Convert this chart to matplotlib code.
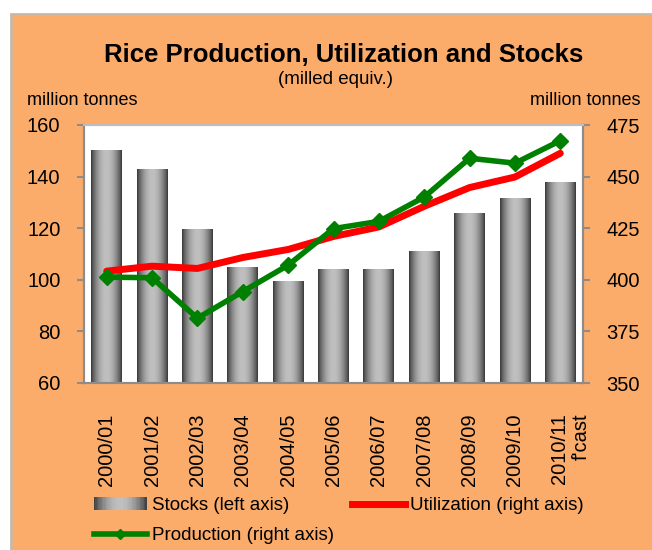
import numpy as np
import matplotlib.pyplot as plt
import matplotlib.transforms as mtransforms
from matplotlib.patches import Rectangle
from matplotlib.lines import Line2D
from matplotlib.legend_handler import HandlerBase

plt.rcParams['font.family'] = ['Liberation Sans', 'DejaVu Sans']

seasons = ['2000/01', '2001/02', '2002/03', '2003/04', '2004/05', '2005/06',
           '2006/07', '2007/08', '2008/09', '2009/10', "2010/11\nf'cast"]
stocks = [150.3, 142.6, 119.5, 104.8, 99.4, 104.0, 104.0, 111.0, 125.6, 131.4, 137.6]
utilization = [404.2, 406.6, 405.5, 410.8, 414.7, 421.0, 425.6, 435.6, 444.7, 449.8, 461.3]
production = [401.3, 401.0, 381.4, 394.3, 407.1, 424.8, 428.3, 440.1, 458.9, 456.5, 467.4]

orange = '#FBAC6B'
spine_gray = '#8c8c8c'


def shade(t):
    # cylinder look: dark edges, light middle
    return 0.22 + 0.53 * np.sin(np.pi * t) ** 0.8


grad = shade(np.linspace(0, 1, 64)).reshape(1, -1)


class GradientHandler(HandlerBase):
    def create_artists(self, legend, orig_handle, xdescent, ydescent,
                       width, height, fontsize, trans):
        n = 40
        arts = []
        for i in range(n):
            g = shade((i + 0.5) / n)
            r = Rectangle((-xdescent + width * i / n, -ydescent), width / n * 1.05, height,
                          facecolor=(g, g, g), edgecolor='none', transform=trans)
            arts.append(r)
        return arts


fig = plt.figure(figsize=(6.52, 5.5), dpi=100, facecolor='white')
fig.patches.append(Rectangle((11 / 652, -0.1), 1.2, 1.1 - 14 / 550, transform=fig.transFigure,
                             facecolor=orange, edgecolor='#c9b8a6', lw=2, zorder=-10))

ax = fig.add_axes([84 / 652, 1 - 383 / 550, 499 / 652, 258 / 550])
ax.set_facecolor('white')
x = np.arange(len(seasons))
bars = ax.bar(x, stocks, width=0.68, facecolor='none', edgecolor='none')
for b in bars:
    ax.imshow(grad, extent=(b.get_x(), b.get_x() + b.get_width(), b.get_y(), b.get_y() + b.get_height()),
              aspect='auto', cmap='gray', vmin=0, vmax=1, interpolation='bilinear', zorder=2)
ax.set_xlim(-0.5, len(seasons) - 0.5)
ax.set_ylim(60, 160)
ax.set_yticks(range(60, 161, 20))
ax.set_xticks(x)
ax.tick_params(axis='x', length=0, pad=22)
ax.tick_params(axis='y', direction='out', length=5, width=1.5, color=spine_gray, labelsize=14.5, pad=12)
labels = ax.set_xticklabels(seasons, rotation=90, fontsize=14.5, va='top', ha='center',
                            multialignment='right')
# last label: first line sits on the tick, "f'cast" to its right
labels[-1].set_transform(labels[-1].get_transform() +
                         mtransforms.ScaledTranslation(0.1, 0, fig.dpi_scale_trans))

ax2 = ax.twinx()
ax2.plot(x, utilization, color='#FF0000', lw=5, solid_capstyle='round', zorder=2)
ax2.plot(x, production, color='#008000', lw=4, marker='D', ms=8.5, zorder=3)
ax2.set_ylim(350, 475)
ax2.set_yticks(range(350, 476, 25))
ax2.tick_params(axis='y', direction='out', length=5, width=1.5, color=spine_gray, labelsize=14.5, pad=12)

for a in (ax, ax2):
    for s in a.spines.values():
        s.set_color(spine_gray)
        s.set_linewidth(1.5)
    a.spines['top'].set_color('#bdbdbd')

fig.text(344 / 652, 1 - 55 / 550, 'Rice Production, Utilization and Stocks',
         ha='center', va='center', fontsize=18.5, fontweight='bold')
fig.text(335 / 652, 1 - 79 / 550, '(milled equiv.)', ha='center', va='center', fontsize=13.5)
fig.text(27 / 652, 1 - 100 / 550, 'million tonnes', ha='left', va='center', fontsize=13)
fig.text(640 / 652, 1 - 100 / 550, 'million tonnes', ha='right', va='center', fontsize=13)

stock_handle = Rectangle((0, 0), 1, 1)
prod_handle = Line2D([], [], color='#008000', lw=4, marker='D', ms=5)
util_handle = Line2D([], [], color='#FF0000', lw=5)
fig.legend([stock_handle, prod_handle, util_handle],
           ['Stocks (left axis)', 'Production (right axis)', 'Utilization (right axis)'],
           handler_map={Rectangle: GradientHandler()},
           loc='upper left', bbox_to_anchor=(94 / 652, 1 - 497 / 550), ncol=2,
           frameon=False, fontsize=13.5, borderpad=0, handlelength=2.8, handletextpad=0.27,
           columnspacing=1.0, labelspacing=0.7, numpoints=1, borderaxespad=0)

fig.savefig('out.png', dpi=100, facecolor=fig.get_facecolor())
